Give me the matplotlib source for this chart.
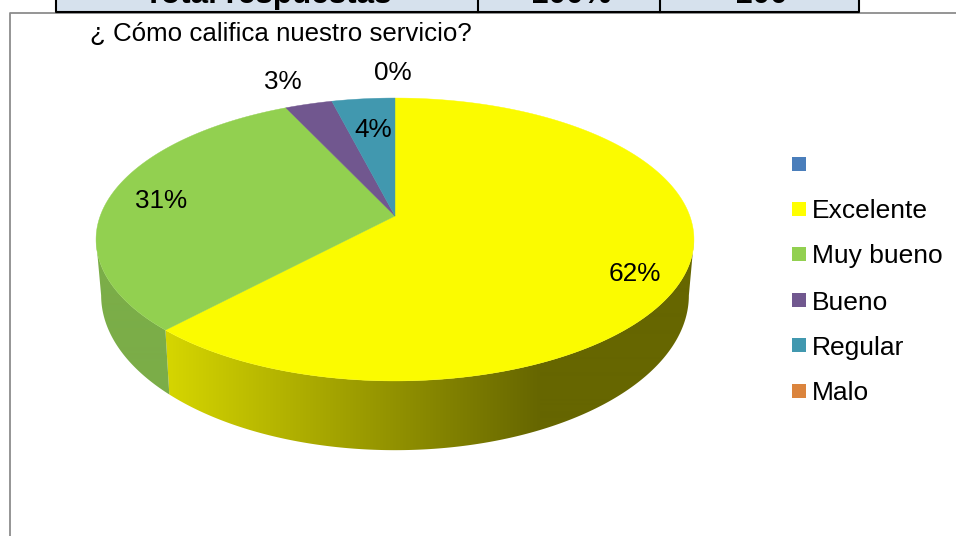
import numpy as np
import matplotlib
matplotlib.use('Agg')
import matplotlib.pyplot as plt
from matplotlib.patches import Rectangle, Polygon

plt.rcParams['font.family'] = ['Liberation Sans', 'DejaVu Sans']

# survey results, blank first entry is an empty category in the sheet
categories = ['', 'Excelente', 'Muy bueno', 'Bueno', 'Regular', 'Malo']
percents = [0, 62, 31, 3, 4, 0]
top_colors = ['#4F81BD', '#FBFB00', '#92D050', '#71578F', '#4198AF', '#DB843D']
legend_colors = ['#4A7EBB', '#FFFF00', '#92D050', '#71588F', '#4198AF', '#DB843D']
title = '¿ Cómo califica nuestro servicio?'
table_cells = ['Total respuestas', '100%', '100']

# label centres for the slices that show a percentage
label_xy = {'Excelente': (635, 274), 'Muy bueno': (161, 201), 'Bueno': (283, 82),
            'Regular': (373, 130), 'Malo': (393, 73)}

# pie perspective: disc centre on screen, and the tilt terms of the projection
cx, cy = 395.0, 216.0
tilt_a, tilt_c, tilt_d = 101.7, -0.166, 294.8
# rim angles where the side wall meets the outline of the disc
wall_from, wall_to = 99.6, 260.4


def project(theta):
    # theta in degrees, clockwise from 12 o'clock
    t = np.radians(theta)
    u, v = np.sin(t), -np.cos(t)
    den = 1 + tilt_c * v
    return cx + tilt_d * u / den, (tilt_a * v + cy) / den


def lower_rim(theta):
    x, y = project(theta)
    return cx + (x - cx) * 0.983, 295.3 + (y - 239.5) * 1.095


def wall_image(name, color):
    # one row of pixels, shaded by x position
    cols = np.arange(956) + 0.5
    if name == 'Excelente':
        # yellow side goes darker towards the right then stays flat
        level = np.clip(214 - (cols - 166) * 112 / 374, 102, 214) / 255
        return np.dstack([level, level, np.zeros_like(level)])
    if name == 'Muy bueno':
        rgb = matplotlib.colors.to_rgb('#7BAD48')
    else:
        rgb = tuple(c * 0.7 for c in matplotlib.colors.to_rgb(color))
    return np.ones((1, 956, 3)) * rgb


fig = plt.figure(figsize=(9.56, 5.36), dpi=100)
ax = fig.add_axes([0, 0, 1, 1])
ax.axis('off')

# chart frame
ax.plot([10, 10, 956], [536, 12.5, 12.5], color='#8C8C8C', lw=1.3, solid_capstyle='butt')

# bottom row of the table above the chart
ax.add_patch(Rectangle((56, -2), 803, 13.5, facecolor='#D6E1ED', edgecolor='none'))
ax.plot([56, 56, 859, 859], [0, 11.5, 11.5, 0], color='black', lw=1.5)
ax.plot([478, 478], [0, 11.5], color='black', lw=1.5)
ax.plot([660, 660], [0, 11.5], color='black', lw=1.5)
for text, x in zip(table_cells, [268, 571, 761]):
    ax.text(x, 3.3, text, fontsize=22.6, fontweight='bold', ha='center', va='baseline')

ax.text(90, 31, title, fontsize=18.6, ha='left', va='center_baseline', color='black')

# slice angle ranges from the percentages
start = 0.0
slices = []
for name, pct, color in zip(categories, percents, top_colors):
    if pct > 0:
        slices.append((name, color, start, start + pct * 3.6))
    start += pct * 3.6

# side walls first, top faces go over them
for name, color, a0, a1 in slices:
    lo, hi = max(a0, wall_from), min(a1, wall_to)
    if hi <= lo:
        continue
    steps = np.linspace(lo, hi, 200)
    tx, ty = project(steps)
    bx, by = lower_rim(steps)
    outline = list(zip(tx, ty)) + list(zip(bx[::-1], by[::-1]))
    clip = Polygon(outline, closed=True, transform=ax.transData, facecolor='none', edgecolor='none')
    ax.add_patch(clip)
    im = ax.imshow(wall_image(name, color), extent=(0, 956, 536, 0), aspect='auto',
                   interpolation='bilinear', zorder=1.5)
    im.set_clip_path(clip)

for name, color, a0, a1 in slices:
    steps = np.linspace(a0, a1, int(a1 - a0) * 2 + 2)
    xs, ys = project(steps)
    pts = [(cx, cy)] + list(zip(xs, ys))
    ax.add_patch(Polygon(pts, closed=True, facecolor=color, edgecolor=color, lw=0.3, zorder=2))

for name, pct in zip(categories, percents):
    if name in label_xy:
        x, y = label_xy[name]
        ax.text(x, y, f'{pct}%', fontsize=18.8, ha='center', va='center', zorder=3)

# legend
legend_y = [164, 209, 254, 300, 345, 391]
for name, color, y in zip(categories, legend_colors, legend_y):
    ax.add_patch(Rectangle((792, y - 7), 14, 14, facecolor=color, edgecolor='none'))
    ax.text(812, y, name, fontsize=19, ha='left', va='center_baseline')

ax.set_xlim(0, 956)
ax.set_ylim(536, 0)
fig.savefig('out.png', dpi=100)
